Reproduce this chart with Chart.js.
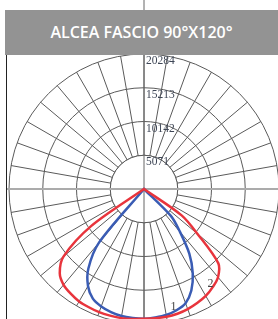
<!DOCTYPE html>
<html>
<head>
<meta charset="utf-8">
<script src="https://cdn.jsdelivr.net/npm/chart.js@4/dist/chart.umd.min.js"></script>
<style>
  html, body { margin: 0; padding: 0; background: #fff; overflow: hidden; }
  #wrap { position: relative; width: 278px; height: 319px; overflow: hidden; }
  #header {
    position: absolute; left: 5px; top: 10px; width: 273px; height: 45px;
    background: #939393; color: #fff; text-align: center; line-height: 45px;
    font-family: "Open Sans", sans-serif; font-size: 16px; font-weight: 600; z-index: 2;
  }
  #frame { position: absolute; left: 6px; top: 55px; height: 264px; border-left: 1.5px solid #222; z-index: 1; }
  canvas { position: absolute; left: 0; top: 0; }
</style>
</head>
<body>
<div id="wrap">
  <div id="header">ALCEA FASCIO 90°X120°</div>
  <div id="frame"></div>
  <canvas id="polar" width="290" height="330"></canvas>
</div>
<script>
// gamma angles (0 = straight down), one value per 5 degrees
const gammaAngles = [0, 5, 10, 15, 20, 25, 30, 35, 40, 45, 50, 55, 60, 65, 70, 75, 80, 85, 90];
// curve 2 (red), intensity in cd
const redRight = [19500, 19500, 19500, 19400, 19200, 18900, 18550, 18000, 17300, 15800, 10500, 6900, 0, 0, 0, 0, 0, 0, 0];
const redLeft = [19500, 19600, 19700, 19700, 19700, 19600, 19500, 19200, 18800, 17900, 15800, 9600, 0, 0, 0, 0, 0, 0, 0];
// curve 1 (blue)
const blueRight = [19500, 19380, 19230, 18860, 18250, 16830, 14650, 11870, 8410, 5710, 0, 0, 0, 0, 0, 0, 0, 0, 0];
const blueLeft = [19500, 19450, 19380, 19150, 18780, 18180, 16830, 14570, 10520, 0, 0, 0, 0, 0, 0, 0, 0, 0, 0];
const tickValues = [5071, 10142, 15213, 20284];
const curveTags = ["1", "2"];
const tagGamma = [14, 35];
const tagValues = [18300, 17400];

const angleStep = 5;
const labelCount = 360 / angleStep;
const gridColor = "#5a5a5a";

function toRadar(right, left) {
  const out = new Array(labelCount).fill(0);
  gammaAngles.forEach((g, k) => {
    out[(180 - g) / angleStep] = right[k];
    out[((180 + g) / angleStep) % labelCount] = left[k];
  });
  return out;
}

const radarLabels = [];
for (let i = 0; i < labelCount; i++) radarLabels.push(String(i * angleStep));

const polarFrame = {
  id: "polarFrame",
  beforeDatasetsDraw(chart) {
    const r = chart.scales.r;
    const ctx = chart.ctx;
    const cx = r.xCenter, cy = r.yCenter;
    const inner = r.getDistanceFromCenterForValue(tickValues[0]);
    ctx.save();
    ctx.beginPath();
    ctx.arc(cx, cy, inner, 0, Math.PI * 2);
    ctx.fillStyle = "#fff";
    ctx.fill();
    ctx.strokeStyle = gridColor;
    ctx.lineWidth = 1;
    ctx.stroke();
    // axes
    ctx.beginPath();
    ctx.moveTo(7, cy);
    ctx.lineTo(chart.width, cy);
    ctx.strokeStyle = "#ababab";
    ctx.lineWidth = 2;
    ctx.stroke();
    ctx.beginPath();
    ctx.moveTo(cx, 0);
    ctx.lineTo(cx, chart.height);
    ctx.strokeStyle = "#666";
    ctx.lineWidth = 1;
    ctx.stroke();
    // ring values
    ctx.font = '11.5px "Liberation Serif"';
    ctx.fillStyle = "#3e4656";
    ctx.textAlign = "left";
    ctx.textBaseline = "middle";
    tickValues.forEach((v) => {
      const d = r.getDistanceFromCenterForValue(v);
      ctx.fillText(String(v), cx + 2, cy - d + 7);
    });
    ctx.restore();
  },
  afterDatasetsDraw(chart) {
    const r = chart.scales.r;
    const ctx = chart.ctx;
    ctx.save();
    ctx.font = '12px "Liberation Serif"';
    ctx.fillStyle = "#444";
    ctx.textAlign = "center";
    ctx.textBaseline = "middle";
    curveTags.forEach((t, k) => {
      const p = r.getPointPositionForValue((180 - tagGamma[k]) / angleStep, tagValues[k]);
      ctx.fillText(t, p.x, p.y);
    });
    ctx.restore();
  },
};

new Chart(document.getElementById("polar"), {
  type: "radar",
  data: {
    labels: radarLabels,
    datasets: [
      {
        label: "2",
        data: toRadar(redRight, redLeft),
        borderColor: "#e8343c",
        borderWidth: 2.5,
        fill: false,
        pointRadius: 0,
        tension: 0.3,
      },
      {
        label: "1",
        data: toRadar(blueRight, blueLeft),
        borderColor: "#3a5cb4",
        borderWidth: 2.5,
        fill: false,
        pointRadius: 0,
        tension: 0.3,
      },
    ],
  },
  options: {
    responsive: false,
    animation: false,
    layout: { padding: { left: 9, right: 11, top: 54, bottom: 6 } },
    plugins: { legend: { display: false }, tooltip: { enabled: false } },
    scales: {
      r: {
        min: 0,
        max: tickValues[tickValues.length - 1],
        startAngle: 0,
        ticks: { display: false, stepSize: tickValues[0] },
        pointLabels: { display: false },
        grid: { circular: true, color: gridColor, lineWidth: 1 },
        angleLines: {
          color: (c) => (c.index % 2 ? "rgba(0,0,0,0)" : gridColor),
          lineWidth: 1,
        },
      },
    },
  },
  plugins: [polarFrame],
});
</script>
</body>
</html>
